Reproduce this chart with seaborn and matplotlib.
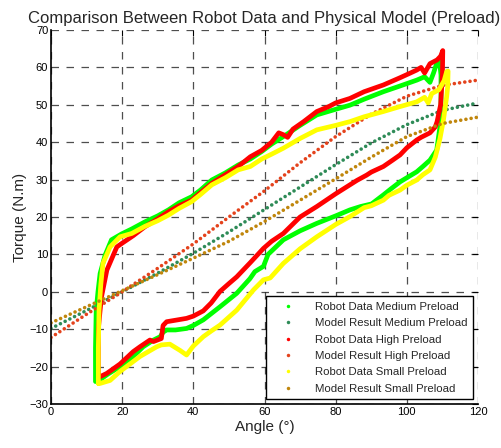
import matplotlib
matplotlib.use("Agg")
import matplotlib.pyplot as plt
from matplotlib.lines import Line2D
import seaborn as sns
import pandas as pd

# ---------------- data ----------------
model_x = [0, 10, 20, 30, 40, 50, 60, 70, 80, 90, 100, 110, 120]
model_medium = [-9.8, -5.0, 0.0, 5.0, 10.3, 16.0, 22.0, 28.0, 34.0, 39.8, 44.7, 48.5, 50.5]
model_high = [-12.2, -6.0, 0.0, 6.3, 12.8, 20.0, 27.0, 34.5, 41.5, 47.5, 52.3, 55.2, 56.6]
model_small = [-8.3, -4.0, 0.3, 4.6, 9.0, 13.5, 18.8, 24.5, 30.2, 36.0, 41.5, 45.0, 46.7]

robot_medium_x = [12.5, 12.5, 12.7, 13.2, 13.8, 15.2, 17, 19.9, 22.7, 26.4, 30, 33, 36, 39.5, 42,
                  45.2, 49, 52.6, 56, 59.2, 62, 65.3, 70, 74.7, 80, 84, 88, 93.4, 98, 102.8, 105,
                  106.5, 107.5, 108.4, 109.2, 109.6,
                  109.6, 109.3, 108.4, 106.5, 104.5, 102.8, 100, 98.1, 95.5, 93.4, 90.1, 87, 84, 80,
                  74.7, 70, 65.3, 61, 59.7, 57.3, 55.9, 52.2, 47.5, 42.8, 40, 38.1, 35, 32.5, 31.5,
                  30.7, 28.8, 25.9, 23.1, 19.4, 16, 13.8, 13.2]
robot_medium_y = [-24, -15, -5, 0, 4.9, 9.8, 13.9, 15.5, 16.8, 18.7, 20.3, 21.9, 23.8, 25.4, 27.2,
                  29.9, 31.8, 33.9, 35.5, 37.5, 39.5, 41.5, 44.5, 47.3, 48.8, 49.9, 51.5, 53.5, 55,
                  56.6, 57.5, 56, 58.5, 61.1, 61.5, 58,
                  50, 44.1, 37.9, 35.2, 33.5, 32.1, 30.5, 29.4, 27.5, 25.9, 23.5, 22.8, 21.9, 20.3,
                  18.3, 16.3, 13.9, 10, 6.8, 5.4, 3.5, -0.4, -4, -7.5, -9, -9.8, -10.2, -10.2, -10.8,
                  -12, -12.9, -14.7, -17.3, -20, -22, -23.5, -24]

robot_high_x = [13.3, 13.3, 13.8, 14.2, 15.7, 18.5, 20, 23.1, 26.4, 30, 33, 36, 39.5, 42, 45.2, 49,
                52.6, 56, 59.2, 62, 64, 65.3, 66.5, 68, 71, 74.7, 78, 80, 84, 88, 93.4, 98, 101,
                102.8, 104, 105, 106.5, 108.5, 109.5, 110.1,
                110, 109.5, 108.5, 108, 106.5, 104, 102.8, 100, 98.1, 96, 93.4, 90, 88.7, 86, 84, 80,
                74.7, 70, 65.3, 62, 59.7, 56, 52.2, 50, 47.5, 45, 42.8, 40, 38.1, 35, 32.5, 31.5, 31,
                28.8, 27.8, 25, 23.1, 19.4, 15.7, 13.8, 13.3]
robot_high_y = [-23, -10, -5, -1.3, 5.8, 12, 13, 15, 17.4, 19.5, 21.4, 23, 24.5, 26.5, 29, 31.3,
                33.5, 36.1, 37.8, 40, 42.5, 42, 41.3, 43.5, 45.5, 48.2, 49.5, 50.5, 51.7, 53.5, 55.3,
                57.2, 58.5, 59.3, 60, 58.5, 61, 62, 63, 64.5,
                58, 50, 45.5, 44.1, 42.5, 41.3, 40.6, 38.5, 36.6, 35.2, 33.5, 32, 31.2, 29.8, 28.6,
                26.2, 22.8, 20, 15.6, 13.5, 11.6, 7.8, 4.0, 2.2, 0.1, -3, -5.1, -6.5, -7.1, -7.6, -8.0,
                -9, -12.5, -13.3, -12.9, -14.7, -16, -19.3, -21.8, -22.7, -23]

robot_small_x = [13.3, 13.3, 13.5, 14, 14.6, 16.6, 19.4, 22.7, 26.4, 30, 33, 36, 39.5, 42, 45.2, 49,
                 52.6, 56, 59.2, 62, 65.3, 70, 74.7, 80, 84, 88, 93.4, 98, 102.8, 105, 106, 107, 109,
                 110.5, 111.2, 111.6,
                 111.5, 111.2, 110.3, 109.3, 108, 106.5, 104.5, 102.8, 100, 98.1, 95, 93.4, 90, 88, 84,
                 80, 74.7, 70, 65.3, 61.6, 59.7, 56.9, 52.2, 47.5, 45, 42.8, 40, 38.1, 36.3, 33.4, 31,
                 29.7, 25, 19.4, 16.6, 13.8, 13.3]
robot_small_y = [-24.5, -15, -5, 2, 7.6, 12, 14.7, 15.6, 17.5, 19, 20.5, 22.3, 24.1, 26, 28.6, 30.5,
                 32.6, 33.5, 35.5, 36.8, 38.4, 41, 43.3, 44.5, 45.5, 46.8, 48.2, 49.5, 50.8, 52, 50.5,
                 53, 54, 56.5, 58.9, 59,
                 55, 52.2, 46, 40.9, 36, 32.6, 31.3, 29.9, 28.5, 27.2, 25.8, 24.5, 23, 22.5, 20.1, 18,
                 14.7, 11.5, 7.6, 3.7, 3.2, 0.5, -4.9, -8.9, -10.5, -12, -14.5, -16.9, -15.7, -14,
                 -14.2, -14.7, -17.3, -21.3, -23.7, -24.5, -24.5]

labels = ["Robot Data Medium Preload", "Model Result Medium Preload",
          "Robot Data High Preload", "Model Result High Preload",
          "Robot Data Small Preload", "Model Result Small Preload"]
x_ticks = [0, 20, 40, 60, 80, 100, 120]
y_ticks = [-30, -20, -10, 0, 10, 20, 30, 40, 50, 60, 70]

# ---------------- styling ----------------
sns.set_style("white")
plt.rcParams["font.family"] = ["Liberation Sans", "DejaVu Sans"]

c_robot_med, c_model_med = "#00ff00", "#2e8b57"
c_robot_high, c_model_high = "#ff0000", "#e4421c"
c_robot_small, c_model_small = "#ffff00", "#c0860c"

fig = plt.figure(figsize=(5.02, 4.48), dpi=100)
ax = fig.add_axes([51 / 502, 1 - 404 / 448, 427 / 502, 374 / 448])

dot_style = dict(linestyle=(0, (0.01, 1.45)), dash_capstyle="round", linewidth=2.6)
robot_style = dict(linewidth=3.4, solid_capstyle="round", solid_joinstyle="round")

series = [
    ("robot", robot_medium_x, robot_medium_y, c_robot_med),
    ("model", model_x, model_medium, c_model_med),
    ("robot", robot_high_x, robot_high_y, c_robot_high),
    ("model", model_x, model_high, c_model_high),
    ("robot", robot_small_x, robot_small_y, c_robot_small),
    ("model", model_x, model_small, c_model_small),
]
for kind, xs, ys, col in series:
    df = pd.DataFrame({"x": xs, "y": ys})
    style = robot_style if kind == "robot" else dot_style
    sns.lineplot(data=df, x="x", y="y", sort=False, estimator=None, color=col, ax=ax, **style)

ax.set_xlim(0, 120)
ax.set_ylim(-30, 70)
ax.set_xticks(x_ticks)
ax.set_yticks(y_ticks)
ax.tick_params(labelsize=8, direction="in", length=4, width=0.8, colors="black",
               top=True, right=True, pad=2)
ax.grid(True, color="#222222", linestyle=(0, (6, 6)), linewidth=0.9, alpha=0.8)
for side in ["top", "right"]:
    ax.spines[side].set_visible(False)
for side in ["left", "bottom"]:
    ax.spines[side].set_color("black")
    ax.spines[side].set_linewidth(1.2)

ax.set_title("Comparison Between Robot Data and Physical Model (Preload)", fontsize=12, pad=5)
ax.set_xlabel("Angle (°)", fontsize=11, labelpad=2)
ax.set_ylabel("Torque (N.m)", fontsize=11, labelpad=2)

colors = [c_robot_med, c_model_med, c_robot_high, c_model_high, c_robot_small, c_model_small]
handles = [Line2D([], [], linestyle="none", marker="o", markersize=2.5, color=c,
                  markeredgewidth=0) for c in colors]
leg = ax.legend(handles, labels, loc="lower right", fontsize=8.2, frameon=True, fancybox=False,
                edgecolor="black", framealpha=1, borderpad=0.5, labelspacing=0.56,
                handlelength=2.8, handletextpad=1.0, borderaxespad=0.4)
leg.get_frame().set_linewidth(1.0)

fig.savefig("out.png", dpi=100)
